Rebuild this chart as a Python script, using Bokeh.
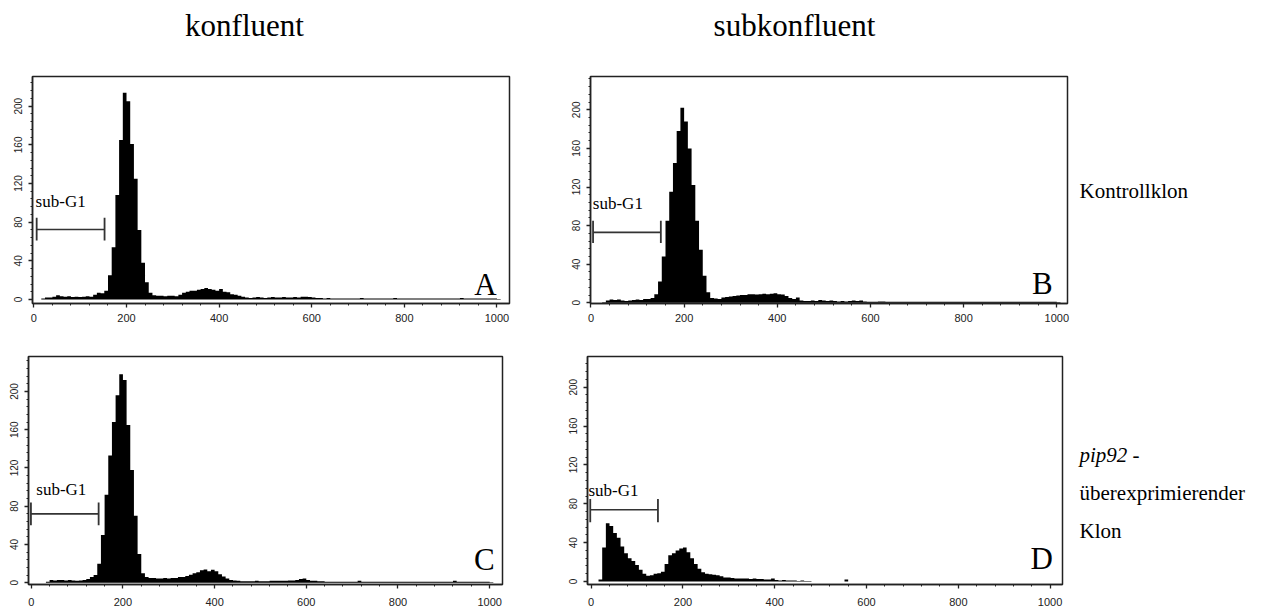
import numpy as np
from bokeh.plotting import figure
from bokeh.models import Range1d, Label, SingleIntervalTicker
from bokeh.layouts import column, row
from bokeh.embed import file_html
from bokeh.resources import INLINE

BIN = 8  # channel width of the histogram bins (DNA content, a.u.)

# ---- histogram counts per bin (bin i covers [8i, 8i+8)) ----
counts_A = [0, 0, 1, 2, 2, 3, 4.5, 3.5, 3, 3.5,
            2.5, 3, 2.5, 3, 3.5, 3, 5, 7, 6.5, 9,
            25, 54, 108, 165, 214, 205, 161, 125, 72, 38,
            18, 7, 4.5, 4, 4, 3.5, 4, 4, 3.5, 5,
            7, 8, 9, 9, 10, 11, 12, 11, 10, 9,
            11, 8, 7.5, 5.5, 5, 4, 3, 2, 1.5, 2,
            2.5, 2, 1.5, 2, 2.5, 2, 2, 2.5, 2, 2,
            2.5, 2, 3, 3, 2.5, 2, 1.5, 1.5, 1, 1.5,
            1, 1, 1, 1, 1, 1, 1, 1, 1.5, 1,
            1, 1, 1, 1, 1, 1, 1, 1.5, 1, 1,
            1, 1, 1, 1, 1, 1, 1, 1, 1, 1,
            1, 1, 1, 1, 1, 1.5, 1, 1, 1, 1,
            1, 1, 1, 1, 1, 0.5, 0, 0]

counts_B = [0, 0, 0, 0.5, 2.5, 3.5, 3, 3.5, 2.5, 2,
            2.5, 3, 3.5, 3, 4, 4, 5, 9, 22, 48,
            85, 115, 145, 178, 202, 188, 160, 122, 85, 55,
            28, 11, 5, 4.5, 4, 5.5, 6, 6.5, 7, 7.5,
            8, 8, 9, 9, 8.5, 9, 9.5, 9, 9.5, 10,
            9, 8.5, 7, 5, 4, 5.5, 2.5, 2, 2, 2.5,
            2, 3, 2.5, 2, 2.5, 2, 1.5, 2, 1.5, 2,
            2.5, 2, 2.5, 1.5, 1, 1, 1, 1.5, 1.5, 1,
            1, 1, 1, 1, 1, 1, 1, 1, 1, 1,
            1, 1, 1, 1, 1, 1, 1, 1, 1, 1,
            1, 1, 1, 1, 1, 1, 1, 1, 1, 1,
            1, 1, 1, 1, 1, 1, 1, 1, 1, 1,
            1, 1, 1, 1, 1, 0.5, 0, 0]

counts_C = [0, 0, 0, 0, 1, 3, 2.5, 3, 3, 2.5,
            3, 2.5, 2, 2.5, 3, 4, 6, 8, 20, 50,
            92, 133, 168, 196, 218, 212, 165, 118, 70, 30,
            10, 6, 5, 5, 4.5, 4.5, 5, 4.5, 5, 5,
            6, 6, 7, 8.5, 10, 11, 13, 14, 12, 13.5,
            12, 9, 6.5, 4.5, 3, 2.5, 2, 1.5, 1.5, 1.5,
            1.5, 2, 1.5, 1.5, 1.5, 2, 2, 2, 2, 2,
            2.5, 2.5, 3, 4, 4.5, 3, 2, 2, 1.5, 1.5,
            1, 1, 1, 1, 1, 1, 1, 1, 1, 2,
            1, 1, 1, 1, 1, 1, 1, 1, 1, 1,
            1, 1, 1, 1, 1, 1, 1, 1, 1, 1,
            1, 1, 1, 1, 1, 2, 1, 1, 1, 1,
            1, 1, 1, 1, 1, 0.5, 0, 0]

counts_D = [0, 0, 2, 35, 60, 57, 50, 45, 36, 29,
            24, 21, 17, 12, 8, 6, 6.5, 8, 8.5, 10,
            18, 27, 29, 32, 34, 35, 30, 24, 18, 13,
            9.5, 8, 7.5, 7, 6.5, 5.5, 4, 4, 3.5, 3,
            3, 3, 3, 2.5, 3, 2.5, 2.5, 2, 2, 3,
            1.5, 1, 1.5, 1, 1, 1, 0.5, 1, 0.5, 0.5,
            0, 0, 0, 0, 0, 0, 0, 0, 0, 2,
            0, 0, 0, 0, 0, 0, 0, 0, 0, 0,
            0, 0, 0, 0, 0, 0, 0, 0, 0, 0,
            0, 0, 0, 0, 0, 0, 0, 0, 0, 0,
            0, 0, 0, 0, 0, 0, 0, 0, 0, 0,
            0, 0, 0, 0, 0, 0, 0, 0, 0, 0,
            0, 0, 0, 0, 0, 0, 0, 0]

panel_letters = ["A", "B", "C", "D"]
# sub-G1 gate
gate_start = [6, 4.5, -0.7, -2]
gate_end = [152.6, 150, 147, 145.5]
gate_level = [72.4, 73, 72, 73.8]
gate_cap_low = [61, 62, 60, 61]
gate_cap_high = [84.5, 85, 84, 85]

col_titles = ["konfluent", "subkonfluent"]
row_label_1 = "Kontrollklon"
row_label_2 = ["pip92", "-", "überexprimierender", "Klon"]

x_ticks_interval = 200
y_ticks_interval = 40

SERIF = "Liberation Serif"
SANS = "Liberation Sans"


def panel(counts, idx, width, height, borders, xr, yr, sub_pos, letter_pos, x_standoff):
    l, r, t, b = borders
    p = figure(width=width, height=height, output_backend="svg", toolbar_location=None,
               x_range=Range1d(*xr), y_range=Range1d(*yr),
               min_border_left=l, min_border_right=r, min_border_top=t, min_border_bottom=b)
    p.title = None
    p.background_fill_color = "white"
    p.border_fill_color = "white"
    p.grid.visible = False
    p.outline_line_color = "#222222"
    p.outline_line_width = 1.5

    edges = np.arange(len(counts) + 1) * BIN
    p.varea_step(x=edges, y1=np.zeros(len(edges)), y2=list(counts) + [0],
                 step_mode="after", fill_color="black")

    # sub-G1 gate bracket
    p.segment(x0=[gate_start[idx]], y0=[gate_level[idx]], x1=[gate_end[idx]], y1=[gate_level[idx]],
              line_color="#333333", line_width=1.6)
    p.segment(x0=[gate_start[idx], gate_end[idx]], y0=[gate_cap_low[idx]] * 2,
              x1=[gate_start[idx], gate_end[idx]], y1=[gate_cap_high[idx]] * 2,
              line_color="#333333", line_width=1.8)

    p.add_layout(Label(x=sub_pos[0], y=sub_pos[1], text="sub-G1", text_font=SERIF,
                       text_font_size="17px", text_color="black", text_baseline="middle"))
    p.add_layout(Label(x=letter_pos[0], y=letter_pos[1], text=panel_letters[idx], text_font=SERIF,
                       text_font_size="31px", text_color="black", text_align="right",
                       text_baseline="middle"))

    p.xaxis.ticker = SingleIntervalTicker(interval=x_ticks_interval, num_minor_ticks=5)
    p.yaxis.ticker = SingleIntervalTicker(interval=y_ticks_interval, num_minor_ticks=5)
    for ax in (p.xaxis, p.yaxis):
        ax.axis_line_color = "#222222"
        ax.axis_line_width = 1.5
        ax.major_tick_line_color = "#222222"
        ax.major_tick_line_width = 1.3
        ax.minor_tick_line_color = "#222222"
        ax.minor_tick_line_width = 1
        ax.major_tick_in = 0
        ax.major_tick_out = 4
        ax.minor_tick_in = 0
        ax.minor_tick_out = 2
        ax.major_label_text_font = SANS
        ax.major_label_text_color = "#222222"
    p.xaxis.major_label_text_font_size = "11px"
    p.xaxis.major_label_standoff = x_standoff
    p.yaxis.major_label_text_font_size = "10px"
    p.yaxis.major_label_orientation = "vertical"
    p.yaxis.major_label_standoff = 6
    return p


# plots in one row share their top/bottom borders
pA = panel(counts_A, 0, 560, 275, (32, 51, 16, 32), (-3, 1027), (-4.1, 230.7), (3.7, 101), (999, 16), 6)
pB = panel(counts_B, 1, 510, 275, (30, 3, 16, 32), (-1, 1023), (-0.7, 234.5), (4, 103), (991, 20.5), 6)
pC = panel(counts_C, 2, 560, 276, (28, 58, 21, 27), (-6, 1028), (-1.8, 236.5), (11, 97), (1011, 24.6), 9)
pD = panel(counts_D, 3, 510, 276, (27, 8, 21, 27), (-8, 1027), (-3.1, 231.6), (-6, 94), (1006, 23.2), 9)


def text_fig(width, height, xr, yr, top_b, bottom_b):
    f = figure(width=width, height=height, output_backend="svg", toolbar_location=None,
               x_range=Range1d(*xr), y_range=Range1d(*yr), x_axis_type=None, y_axis_type=None,
               min_border_left=0, min_border_right=0,
               min_border_top=top_b, min_border_bottom=bottom_b)
    f.title = None
    f.outline_line_color = None
    f.grid.visible = False
    f.background_fill_color = "white"
    f.border_fill_color = "white"
    return f


def txt(fig, x, y, s, size, align="left", style="normal"):
    fig.add_layout(Label(x=x, y=y, text=s, text_font=SERIF, text_font_size=size,
                         text_align=align, text_baseline="middle", text_font_style=style,
                         text_color="black"))


top = text_fig(1263, 60, (0, 1263), (60, 0), 0, 0)
txt(top, 244, 24.5, col_titles[0], "31px", "center")
txt(top, 794, 24.5, col_titles[1], "31px", "center")

# frames of the side-label figures map page pixels 1:1
r1 = text_fig(193, 275, (1070, 1263), (303, 76), 16, 32)
txt(r1, 1079, 190, row_label_1, "21px")

r2 = text_fig(193, 276, (1070, 1263), (584, 356), 21, 27)
txt(r2, 1079, 454, row_label_2[0], "21px", style="italic")
txt(r2, 1132, 454, row_label_2[1], "21px")
txt(r2, 1079, 492, row_label_2[2], "21px")
txt(r2, 1079, 530, row_label_2[3], "21px")

layout = column(top, row(pA, pB, r1), row(pC, pD, r2))
open("out.html", "w").write(file_html(layout, INLINE))
